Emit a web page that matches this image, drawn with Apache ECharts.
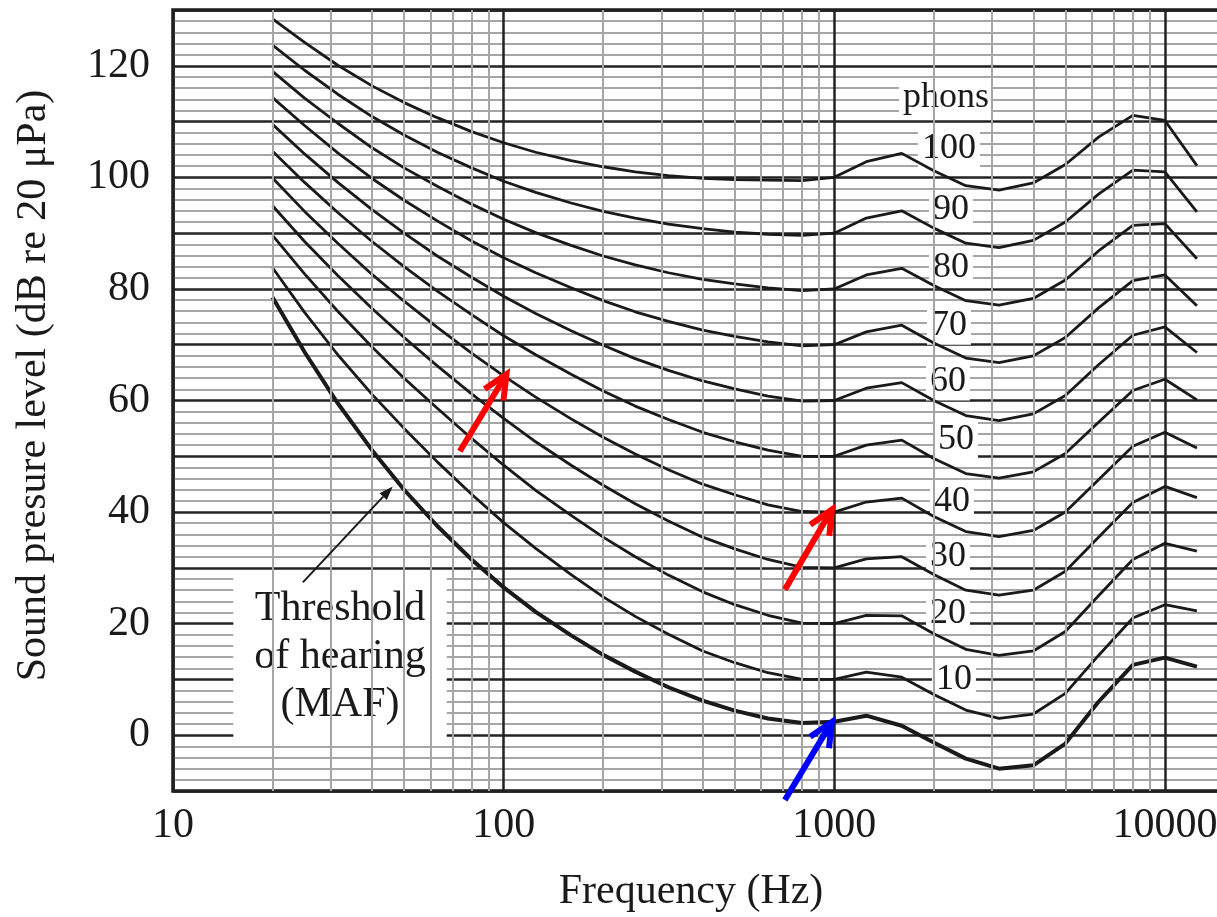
<!DOCTYPE html>
<html><head><meta charset="utf-8">
<script src="https://cdn.jsdelivr.net/npm/echarts@6/dist/echarts.min.js"></script>
<style>html,body{margin:0;padding:0;background:#fff}#c{width:1217px;height:917px}</style>
</head><body><div id="c"></div>
<script>
// ---- data ----
const freqs = [20,25,31.5,40,50,63,80,100,125,160,200,250,315,400,500,630,800,1000,1250,1600,2000,2500,3150,4000,5000,6300,8000,10000,12500];
const maf    = [78.5,68.7,59.5,51.1,44.0,37.5,31.5,26.5,22.1,17.9,14.4,11.4,8.6,6.2,4.4,3.0,2.2,2.4,3.5,1.7,-1.3,-4.2,-6.0,-5.4,-1.5,6.0,12.6,13.9,12.3];
const phon10 = [83.8,75.8,68.2,61.1,55.0,49.0,43.2,38.1,33.5,28.8,24.8,21.3,18.1,15.1,13.0,11.2,10.0,10.0,11.3,10.4,7.3,4.5,3.0,3.8,7.5,14.3,21.0,23.4,22.3];
const phon20 = [89.6,82.7,76.0,69.6,64.0,58.6,53.2,48.4,43.9,39.4,35.5,32.0,28.7,25.7,23.4,21.5,20.1,20.0,21.5,21.4,18.2,15.4,14.3,15.1,18.6,25.0,31.5,34.4,33.0];
const phon30 = [94.9,88.5,82.4,76.5,71.3,66.2,61.2,56.8,52.6,48.4,44.8,41.5,38.4,35.5,33.4,31.5,30.1,30.0,31.6,32.0,28.8,26.0,25.1,26.0,29.4,35.5,41.7,44.6,42.6];
const phon40 = [99.9,93.9,88.2,82.6,77.8,73.1,68.5,64.4,60.6,56.7,53.4,50.4,47.6,45.0,43.1,41.3,40.1,40.0,41.8,42.5,39.2,36.5,35.6,36.7,40.0,45.8,51.8,54.3,51.5];
const phon50 = [104.7,99.1,93.7,88.5,84.0,79.6,75.4,71.6,68.2,64.7,61.7,59.0,56.6,54.3,52.6,51.1,50.0,50.0,52.0,52.9,49.6,46.9,46.1,47.2,50.5,56.1,61.8,63.8,60.1];
const phon60 = [109.5,104.2,99.1,94.2,90.0,85.9,82.1,78.7,75.6,72.5,69.9,67.5,65.4,63.5,62.1,60.8,59.9,60.0,62.2,63.2,60.0,57.3,56.4,57.6,60.9,66.4,71.7,73.2,68.6];
const phon70 = [114.3,109.3,104.4,99.8,95.9,92.2,88.6,85.6,82.9,80.2,77.9,75.9,74.2,72.6,71.5,70.5,69.8,70.0,72.3,73.5,70.3,67.6,66.8,68.0,71.3,76.6,81.5,82.5,77.0];
const phon80 = [119.0,114.2,109.7,105.3,101.7,98.4,95.2,92.5,90.1,87.8,85.9,84.3,82.9,81.7,80.9,80.2,79.7,80.0,82.5,83.7,80.6,77.9,77.1,78.3,81.6,86.8,91.4,91.7,85.4];
const phon90 = [123.7,119.2,114.9,110.9,107.6,104.5,101.7,99.3,97.3,95.4,93.9,92.7,91.6,90.8,90.2,89.8,89.6,90.0,92.7,94.0,90.9,88.2,87.4,88.7,92.0,97.0,101.3,101.0,93.8];
const phon100= [128.4,124.2,120.1,116.4,113.4,110.7,108.2,106.2,104.5,103.0,101.9,101.0,100.3,99.8,99.6,99.5,99.4,100.0,102.8,104.3,101.2,98.5,97.7,99.0,102.3,107.2,111.1,110.2,102.1];
const phonCurves = [phon10,phon20,phon30,phon40,phon50,phon60,phon70,phon80,phon90,phon100];
const phonNames  = ['10','20','30','40','50','60','70','80','90','100'];
const xTickLabels = [10,100,1000,10000];
const yTickLabels = [0,20,40,60,80,100,120];
const minorFreqs = [20,30,40,50,60,70,80,90,200,300,400,500,600,700,800,900,2000,3000,4000,5000,6000,7000,8000,9000];

// ---- annotations (data-space anchors) ----
const curveLabelAnchors = [
  ['phons',[2178,114.3]],['100',[2223,105.2]],['90',[2255,94.3]],['80',[2255,83.9]],['70',[2223,73.4]],
  ['60',[2208,63.4]],['50',[2334,53.0]],['40',[2270,41.9]],['30',[2208,32.0]],['20',[2208,21.8]],['10',[2301,10.0]]
];
const thresholdText = 'Threshold\nof hearing\n(MAF)';
const thresholdAnchor = [32,14.1];
const pointerArrow = [[24.7,27.4],[46.2,44.6]];
const redArrows = [[[73.7,50.9],[102,64.7]], [[709,26.1],[984,40.45]]];
const blueArrows = [[[709,-11.6],[984,2.4]]];

const FONT = 'Liberation Serif';
const INK = '#1a1a1a';

const series = [];
// minor vertical grid lines
series.push({
  type:'line', data:[], z:1, silent:true,
  markLine:{ silent:true, symbol:['none','none'], animation:false, label:{show:false},
    lineStyle:{color:'#a6a6a6', width:2, type:'solid'},
    data: minorFreqs.map(f => ({xAxis:f})) }
});
// curves
series.push({ type:'line', name:'MAF', z:4, data: freqs.map((f,i)=>[f,maf[i]]), showSymbol:false, symbol:'none',
  lineStyle:{color:INK, width:4}, silent:true });
phonCurves.forEach((c,k) => series.push({ type:'line', name:phonNames[k], z:4, data: freqs.map((f,i)=>[f,c[i]]),
  showSymbol:false, symbol:'none', lineStyle:{color:INK, width:2.8}, silent:true }));

const chart = echarts.init(document.getElementById('c'), null, {renderer:'canvas'});
chart.setOption({
  animation:false,
  backgroundColor:'#fff',
  grid:{left:173, right:-14, top:10, bottom:126, show:true, borderColor:'#1a1a1a', borderWidth:3.5,
    backgroundColor:'transparent', outerBoundsMode:'none', containLabel:false},
  xAxis:{ type:'log', logBase:10, min:10, max:15848,
    axisLine:{show:false}, axisTick:{show:false},
    splitLine:{show:true, lineStyle:{color:'#222', width:2.5}},
    axisLabel:{ formatter: v => { const r = Math.round(v); return xTickLabels.includes(r) ? String(r) : ''; },
      fontFamily:FONT, fontSize:42, color:INK, margin:14 },
    name:'Frequency (Hz)', nameLocation:'middle', nameGap:80,
    nameTextStyle:{fontFamily:FONT, fontSize:42, color:INK, padding:[0,22,0,0]} },
  yAxis:{ type:'value', min:-10, max:130, interval:10,
    axisLine:{show:false}, axisTick:{show:false},
    splitLine:{show:true, lineStyle:{color:'#222', width:2.5}},
    minorTick:{show:false, splitNumber:5},
    minorSplitLine:{show:true, lineStyle:{color:'#a6a6a6', width:2}},
    axisLabel:{ formatter: v => yTickLabels.includes(v) ? String(v) : '', fontFamily:FONT, fontSize:42, color:INK, margin:23 },
    name:'Sound presure level (dB re 20 μPa)', nameLocation:'middle', nameRotate:90, nameGap:118,
    nameTextStyle:{fontFamily:FONT, fontSize:42, color:INK, padding:[0,0,0,30]} },
  series: series
});

// ---- annotations placed through the chart's own scales ----
const toPx = p => chart.convertToPixel({xAxisIndex:0, yAxisIndex:0}, p);
const graphics = [];
curveLabelAnchors.forEach(a => {
  const p = toPx(a[1]);
  graphics.push({ type:'text', x:p[0], y:p[1], z:3, silent:true,
    style:{ text:a[0], fill:INK, font:'36px "' + FONT + '"', align:'center', verticalAlign:'middle',
      textAlign:'center', textVerticalAlign:'middle', backgroundColor:'#fff', padding:[1,4] } });
});
{
  const p = toPx(thresholdAnchor);
  graphics.push({ type:'text', x:p[0], y:p[1], z:3, silent:true,
    style:{ text:thresholdText, fill:INK, font:'42px "' + FONT + '"', lineHeight:48, align:'center', verticalAlign:'middle',
      textAlign:'center', textVerticalAlign:'middle', backgroundColor:'#fff', padding:[10,21] } });
}
function arrow(a, color, width, headLen, headHalf, filled) {
  const t = toPx(a[0]), h = toPx(a[1]);
  const dx = h[0]-t[0], dy = h[1]-t[1], L = Math.hypot(dx,dy);
  const ux = dx/L, uy = dy/L, nx = -uy, ny = ux;
  const b = [h[0]-headLen*ux, h[1]-headLen*uy];
  const left = [b[0]+headHalf*nx, b[1]+headHalf*ny], right = [b[0]-headHalf*nx, b[1]-headHalf*ny];
  const shaftEnd = filled ? b : [h[0]-1.5*ux, h[1]-1.5*uy];
  graphics.push({ type:'polyline', z:10, silent:true, shape:{points:[t, shaftEnd]},
    style:{stroke:color, lineWidth:width, fill:null} });
  if (filled) {
    graphics.push({ type:'polygon', z:10, silent:true, shape:{points:[h,left,right]}, style:{fill:color} });
  } else {
    graphics.push({ type:'polyline', z:10, silent:true, shape:{points:[left,h,right]},
      style:{stroke:color, lineWidth:width, fill:null, lineJoin:'miter', miterLimit:10} });
  }
}
arrow(pointerArrow, INK, 2, 14, 5, true);
redArrows.forEach(a => arrow(a, '#ff0000', 6, 24, 11, false));
blueArrows.forEach(a => arrow(a, '#0000ff', 6, 24, 11, false));
chart.setOption({graphic: graphics});
</script></body></html>
